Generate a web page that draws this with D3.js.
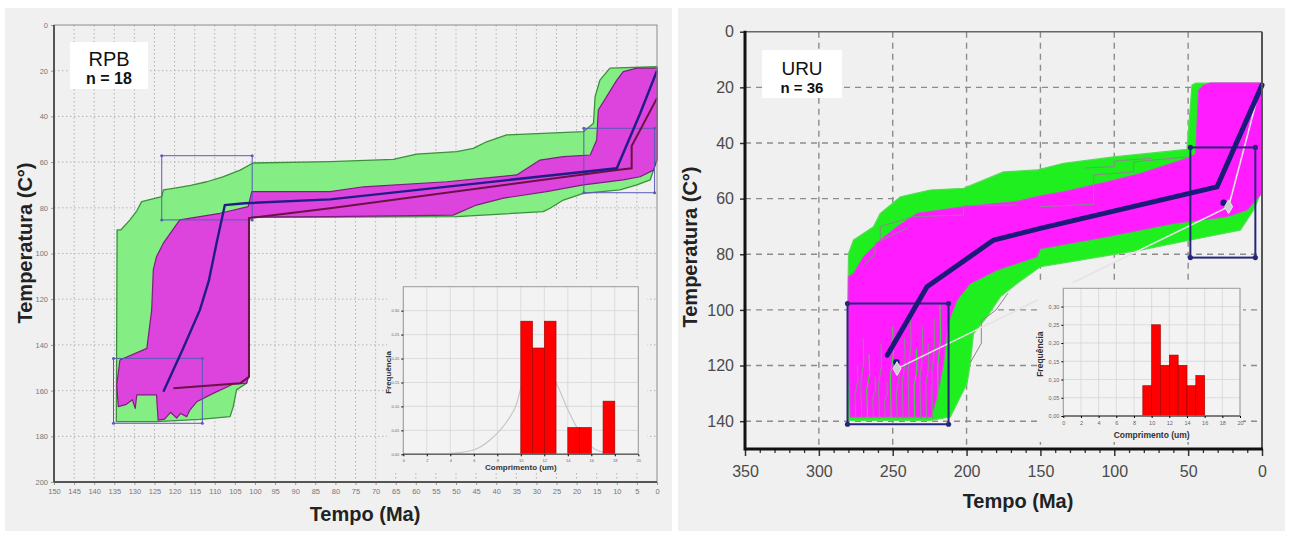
<!DOCTYPE html>
<html>
<head>
<meta charset="utf-8">
<script src="https://cdn.jsdelivr.net/npm/d3@7"></script>
<style>
  body { margin: 0; background: #fff; }
  svg { display: block; font-family: "Liberation Sans", Arial, sans-serif; }
</style>
</head>
<body>
<svg width="1290" height="537"></svg>
<script>
'use strict';

// ---- RPB (left) : time in Ma, temperature in C ----
const rpbTimeTicks = [150,145,140,135,130,125,120,115,110,105,100,95,90,85,80,75,70,65,60,55,50,45,40,35,30,25,20,15,10,5,0];
const rpbTempTicks = [0,20,40,60,80,100,120,140,160,180,200];

const rpbGreen = [[134.5,173.6],[134.4,130],[134.3,89.7],[133.4,89.7],[131.1,85.3],[129.4,81.3],[128.2,77.3],[123.2,75.1],
  [122.8,72.2],[120.3,71.5],[116,70.2],[112,68.6],[108,66.5],[103.7,63.5],[100.5,60.4],[81.3,59.8],[65.6,58.8],[59.8,56.5],
  [49.8,55.4],[45.7,54.0],[42.4,51.1],[37.4,48.1],[18.3,46.7],[15.8,43.0],[15.4,31.4],[14.2,24.1],[11.7,18.9],[0,18.2],
  [0,59],[1.7,67.8],[5,70],[9.2,72.2],[18.3,73.7],[23.3,76.6],[26.6,80.2],[28.3,81.7],[43.2,83.2],[49.8,83.9],[101.5,84.2],
  [101.5,153],[102.1,156.8],[104.6,159.7],[105.4,167],[106.2,171.4],[113.7,172.6],[124.5,173.6]];

const rpbMagenta = [[125.3,107.2],[124.5,101.4],[122.8,95.5],[118.7,85.3],[113.7,83.9],[108.7,82.4],[101.7,79.5],[100.8,72.9],
  [81.3,72.9],[73,70.8],[52.3,68.6],[34.9,65.6],[29.1,59.1],[23.3,57.6],[16.6,56.9],[15,50.3],[14.6,37.2],[10,24.1],[8.4,20.4],
  [5,18.9],[0,18.9],[0,59],[0.9,63.5],[4.2,66.4],[8.4,67.8],[18.3,70],[27.5,72.9],[38.2,75.8],[44.9,78.8],[50.7,83.2],
  [81.3,83.9],[100.5,84],[101.5,84.5],[101.5,153.2],[102.1,156.8],[105.4,157.1],[110.4,161.2],[114.5,164.9],[116.2,168.5],
  [117,171.4],[118.5,170],[119.5,172],[121,169.5],[122.5,172.5],[124.1,172.9],[124.5,161.9],[129.4,161.9],[129.8,167.8],
  [130.5,164],[132,166],[134,167],[134.4,157.5],[133.6,146.6],[126.9,141.5],[125.7,124.7]];

const rpbBestPath = [[122.8,160.5],[118,142],[113.7,124.7],[111.5,112],[109.5,95],[107.5,78.8],[102.5,78],[81.3,76.3],[10,62.7],[4.2,38.7],[0,20]];
const rpbMeanPath = [[120.3,159],[103.7,156.8],[101.5,154],[101.5,84.5],[81.3,80.2],[10,63.5],[6.3,62.7],[6.3,53],[0,32]];
// constraint boxes: [older t, younger t, top T, bottom T]
const rpbBoxes = [[123.2,100.7,57.2,85.3],[135.2,113.1,145.9,174.3],[18.2,0.6,45.2,73.4]];

// RPB track length histogram
const rpbBinStart = [10,11,12,14,15,17];
const rpbFreq = [0.278,0.222,0.278,0.056,0.056,0.111];
const rpbFit = [[4.1,0.002],[5.96,0.009],[7.38,0.03],[8.8,0.068],[9.65,0.106],[10.08,0.145],[11.5,0.19],[13.05,0.147],
  [13.9,0.099],[14.75,0.057],[15.6,0.026],[16.45,0.009],[17.9,0.001]];

// ---- URU (right) ----
const uruTimeTicks = [350,300,250,200,150,100,50,0];
const uruMinorTicks = [340,330,320,310,290,280,270,260,240,230,220,210,190,180,170,160,140,130,120,110,90,80,70,60,40,30,20,10];
const uruTempTicks = [0,20,40,60,80,100,120,140];

const uruGreen = [[279.9,79.7],[276.5,74.9],[263,70.1],[258.4,65.3],[244.9,59.4],[224.6,56.9],[202,56.3],[175,50.4],
  [152.3,49.7],[134.3,47.3],[100.5,45],[50.8,42.3],[47.4,19.2],[45,18.5],[0,18.5],[0,56.9],[5.7,64.1],[14.7,71.3],
  [37.2,73.7],[82.4,78.5],[123,82.1],[150.1,84.5],[165.9,90.5],[177.2,95.3],[186.2,102.5],[195.3,108.5],[197.5,119.3],
  [199.7,126.5],[204.3,131.3],[211,138.5],[224.6,139.7],[280.5,139.7],[280.5,100]];

const uruMagenta = [[280,88],[276.5,86.9],[269.8,80.9],[258.4,74.9],[247.1,70.1],[233.6,65.3],[202,62.9],[165.9,61],
  [150,59],[134,57.5],[105,54],[82.4,51],[50.8,45.5],[45,44],[42.9,21],[39.5,19.2],[35,18.4],[0,18.4],[0,58.1],
  [10.2,64.1],[23.7,66.5],[59.8,68.9],[105,73.7],[150.1,78],[152.3,80.9],[179.4,85.7],[197.5,90.5],[206.5,96.5],
  [211,102.5],[213.3,107.3],[215.6,119.3],[220,131.3],[224,138.5],[278.7,138.5],[280,120]];

// a few individual gray step paths visible inside the envelopes
const uruTraces = [
  [[150.1,62.9],[114,62],[114,51.5],[86.9,50.4],[86.9,46.8],[50.8,45]],
  [[258.4,74.9],[258.4,70],[235.9,66.5],[202,65.9],[202,62.5],[165.9,62.3]],
  [[197.5,119],[190,112],[190,104],[180,100],[172,94]],
  [[270,84],[262,80],[262,76],[250,73],[240,70.5]],
  [[120,49],[100,48.5],[100,46.5],[75,45.5]]
];
// jagged strokes in the oldest box: [t, bottom T, top T]
const uruSpikes = [[274,139,120],[270,139,110],[266,139,116],[262,139,124],[258,139,112],[254,139,126],[250,139,106],
  [246,139,118],[242,139,110],[238,139,101],[234,139,114],[230,139,106],[226,139,112],[222,139,103],[218,139,98]];

const uruBestPath = [[253.7,116.3],[226.8,91.7],[181.7,74.9],[150.1,70.7],[30.5,55.8],[0,19.2]];
const uruModelPath = [[247.1,121.1],[22.6,62.9],[1.2,19.8]];
const uruModelDiamonds = [[247.1,121.1],[22.6,62.9]];
const uruModelDots = [[247.5,118.8],[26,61.5]];
const uruBoxes = [[280.6,212.2,97.7,141.1],[48.5,4.5,41.6,81.2]];

const uruBinStart = [9,10,11,12,13,14,15];
const uruFreq = [0.083,0.25,0.139,0.167,0.139,0.083,0.111];

const histLenTicks = [0,2,4,6,8,10,12,14,16,18,20];
const histFreqTicks = [0,0.05,0.10,0.15,0.20,0.25,0.30];

const fmtComma = d3.formatLocale({decimal: ",", thousands: ".", grouping: [3], currency: ["", ""]}).format(".2f");

let svg = d3.select("svg");

// panel backgrounds
svg.append("g").selectAll("rect")
  .data([[5, 8, 667, 523], [678, 8, 607, 523]])
  .join("rect")
    .attr("x", d => d[0]).attr("y", d => d[1])
    .attr("width", d => d[2]).attr("height", d => d[3])
    .attr("fill", "#f0f0f0");

function styleAxis(g, size, color) {
  g.attr("font-family", null).attr("font-size", null);
  g.select(".domain").remove();
  g.selectAll("text").attr("font-size", size).attr("fill", color);
}

function drawBoxes(g, boxes, x, y, color, width, r) {
  let bg = g.append("g");
  bg.selectAll("rect").data(boxes).join("rect")
    .attr("x", d => x(d[0])).attr("y", d => y(d[2]))
    .attr("width", d => x(d[1]) - x(d[0])).attr("height", d => y(d[3]) - y(d[2]))
    .attr("fill", "none").attr("stroke", color).attr("stroke-width", width);
  let corners = boxes.flatMap(d => [[d[0], d[2]], [d[1], d[2]], [d[0], d[3]], [d[1], d[3]]]);
  bg.selectAll("circle").data(corners).join("circle")
    .attr("cx", d => x(d[0])).attr("cy", d => y(d[1])).attr("r", r).attr("fill", color);
}

function drawHist(g, o) {
  let x = d3.scaleLinear().domain([0, 20]).range([o.x0, o.x1]);
  let y = d3.scaleLinear().domain([0, 0.35]).range([o.y1, o.y0]);
  g.append("rect").attr("x", o.bx).attr("y", o.by).attr("width", o.bw).attr("height", o.bh).attr("fill", "#f0f0f0");
  g.append("rect").attr("x", o.x0).attr("y", o.y0).attr("width", o.x1 - o.x0).attr("height", o.y1 - o.y0).attr("fill", "#f3f3f3");
  let grid = g.append("g").attr("stroke", "#d6d6d6").attr("stroke-width", 0.8);
  grid.selectAll(".v").data(histLenTicks).join("line")
    .attr("x1", d => x(d)).attr("x2", d => x(d)).attr("y1", o.y0).attr("y2", o.y1);
  grid.selectAll(".h").data(histFreqTicks).join("line")
    .attr("y1", d => y(d)).attr("y2", d => y(d)).attr("x1", o.x0).attr("x2", o.x1);
  if (o.fit) {
    g.append("path").datum(o.fit)
      .attr("d", d3.line().x(d => x(d[0])).y(d => y(d[1])).curve(d3.curveMonotoneX))
      .attr("fill", "none").attr("stroke", "#c4c8c4").attr("stroke-width", 1.2);
  }
  g.append("g").selectAll("rect").data(o.bins.map((b, i) => [b, o.freq[i]])).join("rect")
    .attr("x", d => x(d[0])).attr("y", d => y(d[1]))
    .attr("width", d => x(d[0] + 1) - x(d[0])).attr("height", d => y(0) - y(d[1]))
    .attr("fill", "#ff0000").attr("stroke", "#9a0000").attr("stroke-width", 0.6);
  g.append("rect").attr("x", o.x0).attr("y", o.y0).attr("width", o.x1 - o.x0).attr("height", o.y1 - o.y0)
    .attr("fill", "none").attr("stroke", "#9a9a9a").attr("stroke-width", 1);
  g.append("line").attr("x1", o.x0).attr("x2", o.x1).attr("y1", o.y1).attr("y2", o.y1)
    .attr("stroke", "#666").attr("stroke-width", 1.4);
  g.append("g").attr("transform", `translate(${o.x0},0)`)
    .call(d3.axisLeft(y).tickValues(histFreqTicks).tickFormat(fmtComma).tickSize(2).tickPadding(2))
    .call(a => styleAxis(a, o.tickSize, "#666"));
  g.append("g").attr("transform", `translate(0,${o.y1})`)
    .call(d3.axisBottom(x).tickValues(histLenTicks).tickSize(2).tickPadding(3))
    .call(a => styleAxis(a, o.tickSize, "#666"));
  g.append("text").attr("x", (o.x0 + o.x1) / 2).attr("y", o.xlabY).attr("text-anchor", "middle")
    .attr("font-size", o.labSize).attr("font-weight", "bold").attr("fill", "#333").text("Comprimento (um)");
  g.append("text").attr("transform", `translate(${o.ylabX},${(o.y0 + o.y1) / 2 + 2}) rotate(-90)`)
    .attr("text-anchor", "middle").attr("font-size", o.labSize).attr("font-weight", "bold").attr("fill", "#333")
    .text("Frequência");
}

function labelBox(g, x, y, w, h, name, n, s1, s2) {
  g.append("rect").attr("x", x).attr("y", y).attr("width", w).attr("height", h).attr("fill", "#fff");
  g.append("text").attr("x", x + w / 2).attr("y", y + h * 0.52).attr("text-anchor", "middle")
    .attr("font-size", s1).attr("fill", "#111").text(name);
  g.append("text").attr("x", x + w / 2).attr("y", y + h * 0.9).attr("text-anchor", "middle")
    .attr("font-size", s2).attr("font-weight", "bold").attr("fill", "#111").text(n);
}

// ================= LEFT PANEL (RPB) =================
let xL = d3.scaleLinear().domain([150, 0]).range([54, 657]);
let yL = d3.scaleLinear().domain([0, 200]).range([25, 482]);
let lineL = d3.line().x(d => xL(d[0])).y(d => yL(d[1]));
let left = svg.append("g");

let gridL = left.append("g").attr("stroke", "#b4b4b4").attr("stroke-width", 1).attr("stroke-dasharray", "1.5,2.5");
gridL.selectAll(".v").data(rpbTimeTicks.slice(1, -1)).join("line")
  .attr("x1", d => xL(d)).attr("x2", d => xL(d)).attr("y1", yL(0)).attr("y2", yL(200));
gridL.selectAll(".h").data(rpbTempTicks.slice(1, -1)).join("line")
  .attr("y1", d => yL(d)).attr("y2", d => yL(d)).attr("x1", xL(150)).attr("x2", xL(0));

left.append("path").attr("d", lineL(rpbGreen) + "Z")
  .attr("fill", "#84ee84").attr("stroke", "#3d8f3d").attr("stroke-width", 1.3).attr("stroke-linejoin", "round");
left.append("path").attr("d", lineL(rpbMagenta) + "Z")
  .attr("fill", "#dd44dd").attr("stroke", "#7d207d").attr("stroke-width", 1.2).attr("stroke-linejoin", "round");

drawBoxes(left, rpbBoxes, xL, yL, "#5a5ab8", 1, 1.5);

left.append("path").attr("d", lineL(rpbMeanPath))
  .attr("fill", "none").attr("stroke", "#6b1245").attr("stroke-width", 2);
left.append("path").attr("d", lineL(rpbBestPath))
  .attr("fill", "none").attr("stroke", "#1e1e86").attr("stroke-width", 2.4);

// frame and axes
left.append("rect").attr("x", xL(150)).attr("y", yL(0)).attr("width", xL(0) - xL(150)).attr("height", yL(200) - yL(0))
  .attr("fill", "none").attr("stroke", "#8c8c8c").attr("stroke-width", 1);
left.append("g").attr("transform", `translate(${xL(150)},0)`)
  .call(d3.axisLeft(yL).tickValues(rpbTempTicks).tickSize(3).tickPadding(3))
  .call(a => { styleAxis(a, 7.5, "#777"); a.selectAll("line").attr("stroke", "#999"); });
left.append("g").attr("transform", `translate(0,${yL(200)})`)
  .call(d3.axisBottom(xL).tickValues(rpbTimeTicks).tickSize(3).tickPadding(4))
  .call(a => { styleAxis(a, 7.5, "#777"); a.selectAll("line").attr("stroke", "#999"); });
left.append("line").attr("x1", xL(150)).attr("x2", xL(150)).attr("y1", yL(0)).attr("y2", yL(200))
  .attr("stroke", "#555").attr("stroke-width", 2);
left.append("line").attr("x1", xL(150)).attr("x2", xL(0)).attr("y1", yL(200)).attr("y2", yL(200))
  .attr("stroke", "#555").attr("stroke-width", 2);

drawHist(left.append("g"), {
  bx: 387, by: 280, bw: 260, bh: 193,
  x0: 403.3, x1: 638.3, y0: 286.7, y1: 454.3,
  bins: rpbBinStart, freq: rpbFreq, fit: rpbFit,
  tickSize: 4, labSize: 8, xlabY: 470, ylabX: 391
});

labelBox(left, 70, 42, 78, 47, "RPB", "n = 18", 20, 16);

left.append("text").attr("x", 365).attr("y", 521).attr("text-anchor", "middle")
  .attr("font-size", 20).attr("font-weight", "bold").attr("fill", "#222").text("Tempo (Ma)");
left.append("text").attr("transform", "translate(32,243) rotate(-90)").attr("text-anchor", "middle")
  .attr("font-size", 20).attr("font-weight", "bold").attr("fill", "#222").text("Temperatura (C°)");

// ================= RIGHT PANEL (URU) =================
let xR = d3.scaleLinear().domain([350, 0]).range([745, 1262]);
let yR = d3.scaleLinear().domain([0, 150]).range([31.7, 449]);
let lineR = d3.line().x(d => xR(d[0])).y(d => yR(d[1]));
let right = svg.append("g");

let gridR = right.append("g").attr("stroke", "#8c8c8c").attr("stroke-width", 1.4).attr("stroke-dasharray", "6,5");
gridR.selectAll(".v").data(uruTimeTicks.slice(1, -1)).join("line")
  .attr("x1", d => xR(d)).attr("x2", d => xR(d)).attr("y1", yR(0)).attr("y2", yR(150));
gridR.selectAll(".h").data(uruTempTicks.slice(1)).join("line")
  .attr("y1", d => yR(d)).attr("y2", d => yR(d)).attr("x1", xR(350)).attr("x2", xR(0));

right.append("path").attr("d", lineR(uruGreen) + "Z")
  .attr("fill", "#1fee1f").attr("stroke", "#55dd55").attr("stroke-width", 1.2).attr("stroke-linejoin", "round");
right.append("path").attr("d", lineR(uruMagenta) + "Z")
  .attr("fill", "#ff1cff").attr("stroke", "#e040e0").attr("stroke-width", 1);

right.append("g").selectAll("path").data(uruSpikes).join("path")
  .attr("d", d => lineR([[d[0] + 1, d[1]], [d[0] + 1.6, d[1] - (d[1] - d[2]) * 0.45], [d[0] - 0.4, d[1] - (d[1] - d[2]) * 0.7], [d[0], d[2]]]))
  .attr("fill", "none").attr("stroke", (d, i) => i % 4 === 2 ? "#33dd33" : "#8a8a8a").attr("stroke-width", 1.1);
right.append("g").selectAll("path").data(uruTraces).join("path")
  .attr("d", d => lineR(d))
  .attr("fill", "none").attr("stroke", "#8a8a8a").attr("stroke-width", 1);

right.append("path").attr("d", lineR(uruModelPath))
  .attr("fill", "none").attr("stroke", "#e4e4e4").attr("stroke-width", 1.6);

drawBoxes(right, uruBoxes, xR, yR, "#26267a", 2, 2.6);

right.append("path").attr("d", lineR(uruBestPath))
  .attr("fill", "none").attr("stroke", "#1a1a78").attr("stroke-width", 5)
  .attr("stroke-linecap", "round").attr("stroke-linejoin", "round");
right.append("g").selectAll("circle").data(uruModelDots).join("circle")
  .attr("cx", d => xR(d[0])).attr("cy", d => yR(d[1])).attr("r", 3.2).attr("fill", "#1a1a78");
right.append("g").selectAll("path").data(uruModelDiamonds).join("path")
  .attr("transform", d => `translate(${xR(d[0])},${yR(d[1])})`)
  .attr("d", d3.symbol(d3.symbolDiamond, 55))
  .attr("fill", "#cfcfcf").attr("stroke", "#e8e8e8").attr("stroke-width", 1);

drawHist(right.append("g"), {
  bx: 1038, by: 283, bw: 205, bh: 159,
  x0: 1063.3, x1: 1240, y0: 288.3, y1: 416,
  bins: uruBinStart, freq: uruFreq, fit: null,
  tickSize: 5.5, labSize: 8.5, xlabY: 438, ylabX: 1043
});

// frame and axes
right.append("line").attr("x1", xR(350)).attr("x2", xR(0)).attr("y1", yR(0)).attr("y2", yR(0))
  .attr("stroke", "#666").attr("stroke-width", 1.6);
right.append("line").attr("x1", xR(0)).attr("x2", xR(0)).attr("y1", yR(0)).attr("y2", yR(150))
  .attr("stroke", "#555").attr("stroke-width", 2);
right.append("g").attr("transform", `translate(${xR(350)},0)`)
  .call(d3.axisLeft(yR).tickValues(uruTempTicks).tickSize(5).tickPadding(6))
  .call(a => { styleAxis(a, 16, "#4a4a4a"); a.selectAll("line").attr("stroke", "#333").attr("stroke-width", 1.5); });
right.append("g").attr("transform", `translate(0,${yR(150)})`)
  .call(d3.axisBottom(xR).tickValues(uruMinorTicks).tickFormat("").tickSize(4))
  .call(a => { styleAxis(a, 16, "#4a4a4a"); a.selectAll("line").attr("stroke", "#333").attr("stroke-width", 1.3); });
right.append("g").attr("transform", `translate(0,${yR(150)})`)
  .call(d3.axisBottom(xR).tickValues(uruTimeTicks).tickSize(7).tickPadding(10))
  .call(a => { styleAxis(a, 16, "#4a4a4a"); a.selectAll("line").attr("stroke", "#333").attr("stroke-width", 1.5); });
right.append("line").attr("x1", xR(350)).attr("x2", xR(350)).attr("y1", yR(0) - 1).attr("y2", yR(150) + 1.5)
  .attr("stroke", "#111").attr("stroke-width", 3);
right.append("line").attr("x1", xR(350)).attr("x2", xR(0) + 1).attr("y1", yR(150)).attr("y2", yR(150))
  .attr("stroke", "#111").attr("stroke-width", 3);

labelBox(right, 762, 50, 80, 48, "URU", "n = 36", 19, 15);

right.append("text").attr("x", 1018).attr("y", 508).attr("text-anchor", "middle")
  .attr("font-size", 20).attr("font-weight", "bold").attr("fill", "#222").text("Tempo (Ma)");
right.append("text").attr("transform", "translate(697,247) rotate(-90)").attr("text-anchor", "middle")
  .attr("font-size", 20).attr("font-weight", "bold").attr("fill", "#222").text("Temperatura (C°)");
</script>
</body>
</html>
